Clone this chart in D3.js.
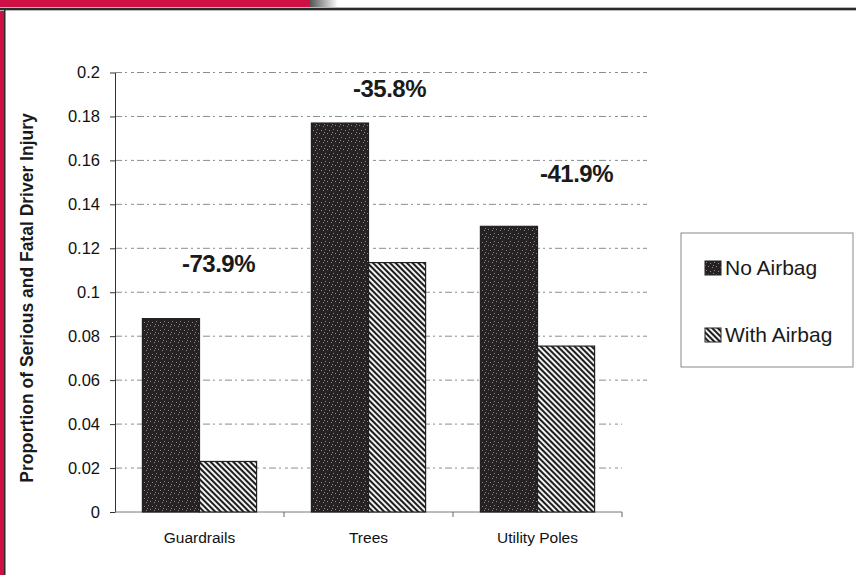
<!DOCTYPE html>
<html>
<head>
<meta charset="utf-8">
<script src="https://cdn.jsdelivr.net/npm/d3@7"></script>
<style>
  html, body { margin: 0; padding: 0; background: #fff; }
  svg { display: block; font-family: Arial, "Liberation Sans", sans-serif; }
</style>
</head>
<body>
<div id="chart"></div>
<script>
// data
const categories = ["Guardrails", "Trees", "Utility Poles"];
const series = ["No Airbag", "With Airbag"];
const noAirbag = [0.088, 0.177, 0.130];
const withAirbag = [0.023, 0.1135, 0.0755];
const changeLabels = ["-73.9%", "-35.8%", "-41.9%"];
const yTicks = [0, 0.02, 0.04, 0.06, 0.08, 0.1, 0.12, 0.14, 0.16, 0.18, 0.2];
const yTickLabels = ["0", "0.02", "0.04", "0.06", "0.08", "0.1", "0.12", "0.14", "0.16", "0.18", "0.2"];

const W = 856, H = 575;
const red = "#cf1045";

const svg = d3.select("#chart").append("svg")
    .attr("width", W)
    .attr("height", H);

const defs = svg.append("defs");

// dark mottled fill for "No Airbag"
const dark = defs.append("pattern")
    .attr("id", "darkFill")
    .attr("patternUnits", "userSpaceOnUse")
    .attr("width", 8).attr("height", 8);
dark.append("rect").attr("width", 8).attr("height", 8).attr("fill", "#262223");
[[1, 1], [5, 2], [3, 5], [7, 6], [0, 4]].forEach(p => {
    dark.append("rect").attr("x", p[0]).attr("y", p[1])
        .attr("width", 1).attr("height", 1).attr("fill", "#8a8a8a");
});

// diagonal hatch for "With Airbag"
const hatch = defs.append("pattern")
    .attr("id", "hatchFill")
    .attr("patternUnits", "userSpaceOnUse")
    .attr("width", 4).attr("height", 4)
    .attr("patternTransform", "rotate(-45)");
hatch.append("rect").attr("width", 4).attr("height", 4).attr("fill", "#f2f2f2");
hatch.append("rect").attr("width", 2).attr("height", 4).attr("fill", "#1e1e1e");

// page frame: red band + dark rule
const grad = defs.append("linearGradient").attr("id", "fade");
grad.append("stop").attr("offset", "0%").attr("stop-color", "#555");
grad.append("stop").attr("offset", "100%").attr("stop-color", "#fff");

svg.append("rect").attr("x", 0).attr("y", 0).attr("width", 310).attr("height", 8).attr("fill", red);
svg.append("rect").attr("x", 310).attr("y", 0).attr("width", 28).attr("height", 8).attr("fill", "url(#fade)");
svg.append("rect").attr("x", 0).attr("y", 0).attr("width", 4).attr("height", H).attr("fill", red);
svg.append("rect").attr("x", 0).attr("y", 7).attr("width", W).attr("height", 4).attr("fill", "#b8b8b8");
svg.append("rect").attr("x", 0).attr("y", 8).attr("width", W).attr("height", 2).attr("fill", "#2a2a2a");
svg.append("rect").attr("x", 4).attr("y", 8).attr("width", 1.5).attr("height", H).attr("fill", "#2a2a2a");

// scales
const plot = { left: 115, right: 622, top: 72.5, bottom: 512 };

const x0 = d3.scaleBand()
    .domain(categories)
    .range([plot.left, plot.right])
    .padding(0);

const x1 = d3.scaleBand()
    .domain(series)
    .range([0, x0.bandwidth()])
    .paddingInner(0)
    .paddingOuter(0.48);

const y = d3.scaleLinear()
    .domain([0, 0.2])
    .range([plot.bottom, plot.top]);

// gridlines
svg.append("g")
    .selectAll("line")
    .data(yTicks.filter(d => d > 0))
    .join("line")
    .attr("x1", plot.left)
    .attr("x2", d => d >= 0.06 ? 647 : plot.right)
    .attr("y1", d => y(d))
    .attr("y2", d => y(d))
    .attr("stroke", "#8c8c8c")
    .attr("stroke-width", 1)
    .attr("stroke-dasharray", "7,3,2,4,3,3");

// y axis
const yAxis = svg.append("g")
    .attr("transform", `translate(${plot.left},0)`)
    .call(d3.axisLeft(y)
        .tickValues(yTicks)
        .tickFormat((d, i) => yTickLabels[i])
        .tickSizeInner(5)
        .tickSizeOuter(0)
        .tickPadding(10));
yAxis.select(".domain").attr("stroke", "#333");
yAxis.selectAll(".tick line").attr("stroke", "#333");
yAxis.selectAll("text")
    .attr("fill", "#111")
    .style("font-size", "16.5px")
    .style("font-family", "Arial, 'Liberation Sans', sans-serif");

// x axis (ticks between categories)
const xAxis = svg.append("g")
    .attr("transform", `translate(0,${plot.bottom})`);
xAxis.append("line")
    .attr("x1", plot.left).attr("x2", plot.right)
    .attr("stroke", "#777");
xAxis.selectAll(".sep")
    .data(categories)
    .join("line")
    .attr("class", "sep")
    .attr("x1", d => x0(d) + x0.bandwidth())
    .attr("x2", d => x0(d) + x0.bandwidth())
    .attr("y1", 0).attr("y2", 5)
    .attr("stroke", "#666");
xAxis.selectAll("text")
    .data(categories)
    .join("text")
    .attr("x", d => x0(d) + x0.bandwidth() / 2)
    .attr("y", 31)
    .attr("text-anchor", "middle")
    .attr("fill", "#111")
    .style("font-size", "15.5px")
    .text(d => d);

// bars
const rows = categories.map((c, i) => ({ cat: c, values: [noAirbag[i], withAirbag[i]] }));
const fills = ["url(#darkFill)", "url(#hatchFill)"];

svg.append("g")
    .selectAll("g")
    .data(rows)
    .join("g")
    .attr("transform", d => `translate(${x0(d.cat)},0)`)
    .selectAll("rect")
    .data(d => d.values.map((v, j) => ({ s: series[j], v: v, j: j })))
    .join("rect")
    .attr("x", d => x1(d.s))
    .attr("y", d => y(d.v))
    .attr("width", x1.bandwidth())
    .attr("height", d => y(0) - y(d.v))
    .attr("fill", d => fills[d.j])
    .attr("stroke", "#222")
    .attr("stroke-width", 1.2);

// percent change labels (annotation placement, in value units + pixel nudge)
const labelAt = [0.109, 0.189, 0.150];
const labelDx = [19, 21, 39];
svg.append("g")
    .selectAll("text")
    .data(changeLabels)
    .join("text")
    .attr("x", (d, i) => x0(categories[i]) + x0.bandwidth() / 2 + labelDx[i])
    .attr("y", (d, i) => y(labelAt[i]))
    .attr("text-anchor", "middle")
    .attr("fill", "#1a1a1a")
    .style("font-size", "24px")
    .style("font-weight", "bold")
    .style("letter-spacing", "-0.5px")
    .text(d => d);

// y axis title
svg.append("text")
    .attr("transform", "translate(33,298) rotate(-90)")
    .attr("text-anchor", "middle")
    .attr("fill", "#1a1a1a")
    .style("font-size", "17.5px")
    .style("font-weight", "bold")
    .text("Proportion of Serious and Fatal Driver Injury");

// legend
const legend = svg.append("g").attr("transform", "translate(681,233)");
legend.append("rect")
    .attr("width", 172).attr("height", 134)
    .attr("fill", "#fff")
    .attr("stroke", "#8a8a8a")
    .attr("stroke-width", 1);
const items = legend.selectAll(".item")
    .data(series)
    .join("g")
    .attr("class", "item")
    .attr("transform", (d, i) => `translate(24,${28 + i * 67})`);
items.append("rect")
    .attr("width", 16).attr("height", 14)
    .attr("fill", (d, i) => fills[i])
    .attr("stroke", "#222");
items.append("text")
    .attr("x", 20)
    .attr("y", 14)
    .attr("fill", "#1a1a1a")
    .style("font-size", "21px")
    .text(d => d);
</script>
</body>
</html>
